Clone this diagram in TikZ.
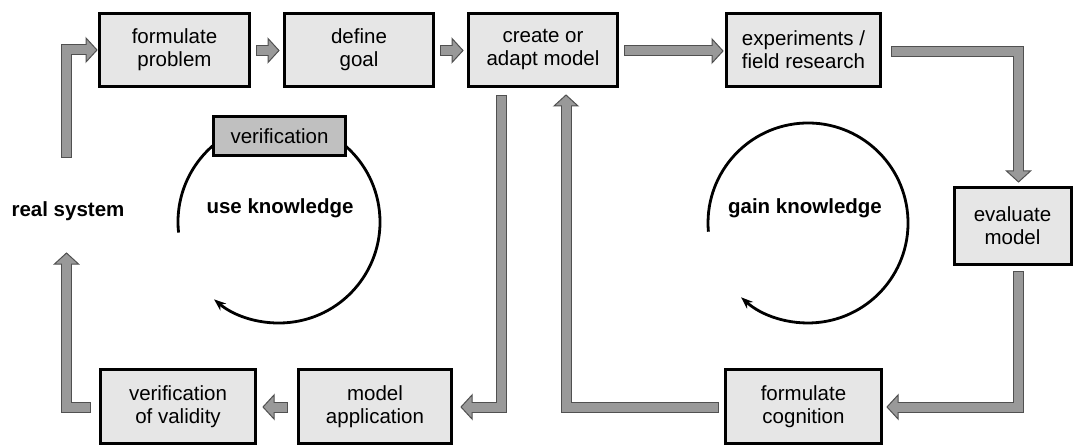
\documentclass[tikz,border=0pt]{standalone}
\usepackage{fontspec}
\setmainfont{Liberation Sans}
\usetikzlibrary{arrows.meta,calc}
\definecolor{boxfill}{HTML}{E6E6E6}
\definecolor{verfill}{HTML}{C0C0C0}
\definecolor{arrfill}{HTML}{999999}
\definecolor{arrline}{HTML}{505050}
\newcommand\bhead[2]{\begin{scope}[shift={(#1)},rotate=#2]\filldraw[headsty] (0,0) -- (-11,12) -- (-11,-12) -- cycle;\end{scope}}
\newcommand\barrow[3]{\draw[shaftout] #1; \bhead{#2}{#3} \draw[shaftin] #1;}
\begin{document}
\begin{tikzpicture}[x=1pt,y=-1pt,
  stepbox/.style={draw=black, line width=3pt, fill=boxfill, align=center, inner sep=0pt,
    font=\fontsize{20.5}{23}\selectfont},
  boldlabel/.style={font=\fontsize{20.5}{23}\selectfont\bfseries, inner sep=0pt},
  shaftout/.style={draw=arrline, line width=11pt, line join=miter},
  shaftin/.style={draw=arrfill, line width=9pt, line join=miter, shorten <=1pt, shorten >=-1.5pt},
  headsty/.style={fill=arrfill, draw=arrline, line width=1pt, line join=miter},
  cyc/.style={line width=2.8pt, -{Stealth[length=12pt,width=9pt]}}
]
\useasboundingbox (0,0) rectangle (1075,446);

% cycles
\draw[cyc] (178.55,232.56) arc[start angle=174, end angle=490, radius=101];
\draw[cyc] (708.4,231.7) arc[start angle=175, end angle=492, radius=100];

% boxes
\node[stepbox, minimum width=150pt, minimum height=73pt] (fp) at (174.5,50) {formulate\\problem};
\node[stepbox, minimum width=149pt, minimum height=73pt] (dg) at (359,50) {define\\goal};
\node[stepbox, minimum width=149pt, minimum height=73pt] (cm) at (543,50) {create or\\adapt model};
\node[stepbox, minimum width=154pt, minimum height=73pt] (ex) at (803.5,50) {experiments /\\field research};
\node[stepbox, minimum width=117pt, minimum height=77pt] (ev) at (1012.5,226) {evaluate\\model};
\node[stepbox, minimum width=156pt, minimum height=74pt] (fc) at (803.5,406.5) {formulate\\cognition};
\node[stepbox, minimum width=153pt, minimum height=74pt] (ma) at (375,406.5) {model\\application};
\node[stepbox, minimum width=155pt, minimum height=74pt] (vv) at (178,406.5) {verification\\of validity};
\node[stepbox, fill=verfill, minimum width=132pt, minimum height=39pt] (ver) at (279.5,136) {verification};

% labels
\node[boldlabel] (rs) at (68,211) {real system};
\node[boldlabel] (uk) at (280,208) {use knowledge};
\node[boldlabel] (gk) at (805,208) {gain knowledge};

% block arrows
\barrow{(66.5,158) -- (66.5,50) -- (86,50)}{97,50}{0}
\barrow{(256,50.5) -- (268,50.5)}{279,50.5}{0}
\barrow{(440,50.5) -- (452,50.5)}{463,50.5}{0}
\barrow{(624,51) -- (712,51)}{723,51}{0}
\barrow{(891,52) -- (1018.5,52) -- (1018.5,171)}{1018.5,182}{-90}
\barrow{(1018.5,271) -- (1018.5,407) -- (898,407)}{887,407}{180}
\barrow{(719,407) -- (566,407) -- (566,106)}{566,95}{90}
\barrow{(501.5,95) -- (501.5,407) -- (472,407)}{461,407}{180}
\barrow{(288,407) -- (274,407)}{263,407}{180}
\barrow{(91,407) -- (66.5,407) -- (66.5,264)}{66.5,253}{90}
\end{tikzpicture}
\end{document}
